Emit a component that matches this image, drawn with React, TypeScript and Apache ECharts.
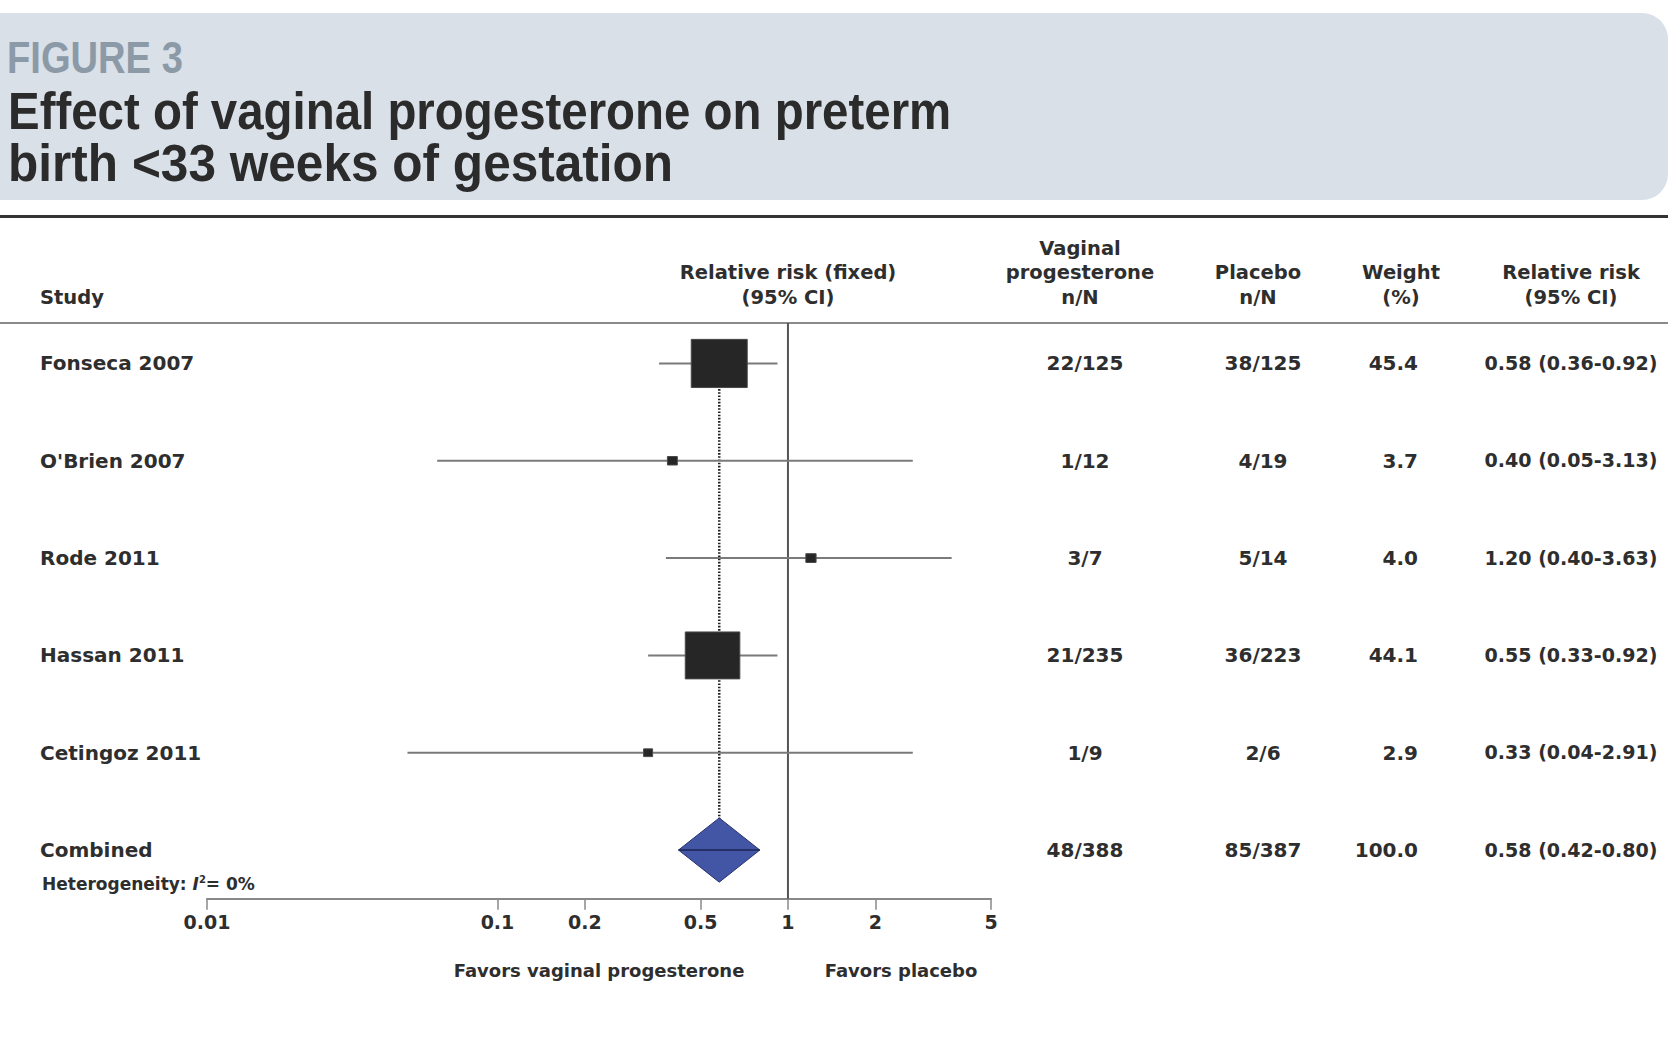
import React, { useEffect, useRef } from 'react';
import * as echarts from 'echarts';

// ---- Data ----
const studies = ['Fonseca 2007', "O'Brien 2007", 'Rode 2011', 'Hassan 2011', 'Cetingoz 2011'];
const rrEstimate = [0.58, 0.40, 1.20, 0.55, 0.33];
// whisker ends as drawn in the figure
const ciLowPlotted = [0.36, 0.062, 0.38, 0.33, 0.049];
const ciHighPlotted = [0.92, 2.69, 3.66, 0.92, 2.69];
const weights = [45.4, 3.7, 4.0, 44.1, 2.9];
const vaginalNN = ['22/125', '1/12', '3/7', '21/235', '1/9'];
const placeboNN = ['38/125', '4/19', '5/14', '36/223', '2/6'];
const rrLabels = ['0.58 (0.36-0.92)', '0.40 (0.05-3.13)', '1.20 (0.40-3.63)', '0.55 (0.33-0.92)', '0.33 (0.04-2.91)'];

const combinedName = 'Combined';
const combinedRR = 0.58;
const combinedLow = 0.42;
const combinedHigh = 0.80;
const combinedVaginal = '48/388';
const combinedPlacebo = '85/387';
const combinedWeight = 100.0;
const combinedRRLabel = '0.58 (0.42-0.80)';

const tickValues = [0.01, 0.1, 0.2, 0.5, 1, 2, 5];
const tickLabels = ['0.01', '0.1', '0.2', '0.5', '1', '2', '5'];

const headerFigure = 'FIGURE 3';
const titleLine1 = 'Effect of vaginal progesterone on preterm';
const titleLine2 = 'birth <33 weeks of gestation';

// ---- helpers ----
const lg = (v: number) => Math.log10(v);
const TXT = '#2e2e2e';
const TF = 'DejaVu Sans';

function fitScale(text: string, font: string, target: number) {
  try {
    const c = document.createElement('canvas').getContext('2d');
    if (!c) return 1;
    c.font = font;
    const w = c.measureText(text).width;
    return w > 0 ? target / w : 1;
  } catch (e) {
    return 1;
  }
}

export default function App() {
  const ref = useRef<HTMLDivElement>(null);

  useEffect(() => {
    if (!ref.current) return;
    const chart = echarts.init(ref.current, undefined, { renderer: 'svg' });

    const tableRows = studies.map((name, i) => ({
      name,
      vag: vaginalNN[i],
      pla: placeboNN[i],
      w: weights[i].toFixed(1),
      rr: rrLabels[i],
    }));
    tableRows.push({
      name: combinedName,
      vag: combinedVaginal,
      pla: combinedPlacebo,
      w: combinedWeight.toFixed(1),
      rr: combinedRRLabel,
    });

    const tickLogs = tickValues.map(lg);
    const titleFont = 'bold 51px "Liberation Sans"';
    const s1 = fitScale(titleLine1, titleFont, 943);
    const s2 = fitScale(titleLine2, titleFont, 665);
    const sF = fitScale(headerFigure, 'bold 44px "Liberation Sans"', 176);
    const sRR = fitScale(rrLabels[0], 'bold 20px "DejaVu Sans"', 173);

    const hdr = (text: string, x: number, y: number, align: string) => ({
      type: 'text',
      x,
      y,
      style: {
        text,
        fill: TXT,
        fontFamily: TF,
        fontWeight: 'bold',
        fontSize: 19.5,
        align,
        verticalAlign: 'middle',
      },
    });

    const option: any = {
      animation: false,
      backgroundColor: '#ffffff',
      grid: { left: 207, top: 314.8, width: 784, height: 583.9 },
      xAxis: {
        type: 'value',
        min: -2,
        max: lg(5),
        splitLine: { show: false },
        axisLine: { onZero: false, lineStyle: { color: '#888', width: 2 } },
        axisTick: {
          customValues: tickLogs,
          length: 11,
          lineStyle: { color: '#888', width: 1.5 },
        },
        axisLabel: {
          customValues: tickLogs,
          margin: 14,
          color: TXT,
          fontFamily: TF,
          fontWeight: 'bold',
          fontSize: 19,
          formatter: (v: number) => {
            const idx = tickLogs.findIndex((t) => Math.abs(t - v) < 1e-6);
            return idx >= 0 ? tickLabels[idx] : '';
          },
        },
      },
      yAxis: {
        type: 'value',
        inverse: true,
        min: -0.5,
        max: 5.5,
        show: false,
      },
      series: [
        {
          // reference line at RR = 1
          type: 'line',
          data: [[lg(1), -0.416], [lg(1), 5.5]],
          symbol: 'none',
          lineStyle: { color: '#555', width: 2 },
          z: 1,
        },
        {
          // dotted line at pooled estimate
          type: 'line',
          data: [[lg(combinedRR), 0], [lg(combinedRR), 5]],
          symbol: 'none',
          lineStyle: { color: '#222', width: 2.5, type: [1.6, 1.6] },
          z: 2,
        },
        {
          type: 'custom',
          z: 3,
          data: studies.map((_, i) => [lg(rrEstimate[i]), i, lg(ciLowPlotted[i]), lg(ciHighPlotted[i]), weights[i]]),
          encode: { x: [0, 2, 3], y: 1 },
          renderItem: (params: any, api: any) => {
            const c = api.coord([api.value(0), api.value(1)]);
            const lo = api.coord([api.value(2), api.value(1)]);
            const hi = api.coord([api.value(3), api.value(1)]);
            const w = 5.8 + 1.106 * api.value(4);
            const h = w * 0.86;
            return {
              type: 'group',
              children: [
                {
                  type: 'line',
                  shape: { x1: lo[0], y1: lo[1], x2: hi[0], y2: hi[1] },
                  style: { stroke: '#7a7a7a', lineWidth: 2 },
                },
                {
                  type: 'rect',
                  shape: { x: c[0] - w / 2, y: c[1] - h / 2, width: w, height: h },
                  style: { fill: '#262626', stroke: '#4a4a4a', lineWidth: 1 },
                },
              ],
            };
          },
        },
        {
          type: 'custom',
          z: 3,
          data: [[lg(combinedRR), 5, lg(combinedLow), lg(combinedHigh)]],
          encode: { x: [0, 2, 3], y: 1 },
          renderItem: (params: any, api: any) => {
            const c = api.coord([api.value(0), api.value(1)]);
            const lo = api.coord([api.value(2), api.value(1)]);
            const hi = api.coord([api.value(3), api.value(1)]);
            const hh = api.size([0, 1])[1] * 0.33;
            return {
              type: 'group',
              children: [
                {
                  type: 'polygon',
                  shape: { points: [[lo[0], c[1]], [c[0], c[1] - hh], [hi[0], c[1]], [c[0], c[1] + hh]] },
                  style: { fill: '#4356a6', stroke: '#26336e', lineWidth: 1 },
                },
                {
                  type: 'line',
                  shape: { x1: lo[0], y1: c[1], x2: hi[0], y2: c[1] },
                  style: { stroke: '#1e2550', lineWidth: 1.5 },
                },
              ],
            };
          },
        },
        {
          // table rows
          type: 'custom',
          z: 4,
          data: tableRows.map((_, i) => [0, i]),
          encode: { x: 0, y: 1 },
          renderItem: (params: any, api: any) => {
            const r = tableRows[params.dataIndex];
            const y = api.coord([0, api.value(1)])[1];
            const base = { fill: TXT, fontFamily: TF, fontWeight: 'bold', fontSize: 20, verticalAlign: 'middle' };
            return {
              type: 'group',
              children: [
                { type: 'text', x: 40, y, style: { ...base, text: r.name, align: 'left' } },
                { type: 'text', x: 1085, y, style: { ...base, text: r.vag, align: 'center' } },
                { type: 'text', x: 1263, y, style: { ...base, text: r.pla, align: 'center' } },
                { type: 'text', x: 1418, y, style: { ...base, text: r.w, align: 'right' } },
                {
                  type: 'text', x: 1571, y, scaleX: sRR,
                  style: { ...base, text: r.rr, align: 'center' },
                },
              ],
            };
          },
        },
      ],
      graphic: [
        {
          type: 'rect',
          shape: { x: -30, y: 13, width: 1698, height: 187, r: 26 },
          style: { fill: '#d9e0e8' },
          z: 0,
        },
        {
          type: 'text',
          x: 7,
          y: 58,
          scaleX: sF,
          style: {
            text: headerFigure,
            fill: '#8c9aa7',
            fontFamily: 'Liberation Sans',
            fontWeight: 'bold',
            fontSize: 44,
            align: 'left',
            verticalAlign: 'middle',
          },
        },
        {
          type: 'text',
          x: 8,
          y: 111,
          scaleX: s1,
          style: {
            text: titleLine1,
            fill: '#2b2b2b',
            fontFamily: 'Liberation Sans',
            fontWeight: 'bold',
            fontSize: 51,
            align: 'left',
            verticalAlign: 'middle',
          },
        },
        {
          type: 'text',
          x: 8,
          y: 163,
          scaleX: s2,
          style: {
            text: titleLine2,
            fill: '#2b2b2b',
            fontFamily: 'Liberation Sans',
            fontWeight: 'bold',
            fontSize: 51,
            align: 'left',
            verticalAlign: 'middle',
          },
        },
        {
          type: 'line',
          shape: { x1: 0, y1: 216.5, x2: 1668, y2: 216.5 },
          style: { stroke: '#333', lineWidth: 3 },
        },
        {
          type: 'line',
          shape: { x1: 0, y1: 323, x2: 1668, y2: 323 },
          style: { stroke: '#8a8a8a', lineWidth: 2 },
        },
        hdr('Study', 40, 297, 'left'),
        hdr('Relative risk (fixed)', 788, 272, 'center'),
        hdr('(95% CI)', 788, 297, 'center'),
        hdr('Vaginal', 1080, 248, 'center'),
        hdr('progesterone', 1080, 272, 'center'),
        hdr('n/N', 1080, 297, 'center'),
        hdr('Placebo', 1258, 272, 'center'),
        hdr('n/N', 1258, 297, 'center'),
        hdr('Weight', 1401, 272, 'center'),
        hdr('(%)', 1401, 297, 'center'),
        hdr('Relative risk', 1571, 272, 'center'),
        hdr('(95% CI)', 1571, 297, 'center'),
        {
          type: 'text',
          x: 42,
          y: 884,
          style: {
            text: '{b|Heterogeneity: }{i|I}{s|2}{b|= 0%}',
            verticalAlign: 'middle',
            align: 'left',
            rich: {
              b: { fill: TXT, color: TXT, fontFamily: TF, fontWeight: 'bold', fontSize: 17, lineHeight: 20 },
              i: { fill: TXT, color: TXT, fontFamily: TF, fontWeight: 'bold', fontStyle: 'italic', fontSize: 17, lineHeight: 20 },
              s: { fill: TXT, color: TXT, fontFamily: TF, fontWeight: 'bold', fontSize: 10, lineHeight: 20, verticalAlign: 'top' },
            },
          },
        },
        {
          type: 'text',
          x: 599,
          y: 970,
          style: {
            text: 'Favors vaginal progesterone',
            fill: TXT,
            fontFamily: TF,
            fontWeight: 'bold',
            fontSize: 18,
            align: 'center',
            verticalAlign: 'middle',
          },
        },
        {
          type: 'text',
          x: 901,
          y: 970,
          style: {
            text: 'Favors placebo',
            fill: TXT,
            fontFamily: TF,
            fontWeight: 'bold',
            fontSize: 18,
            align: 'center',
            verticalAlign: 'middle',
          },
        },
      ],
    };

    chart.setOption(option);
    return () => chart.dispose();
  }, []);

  return (
    <div
      ref={ref}
      style={{ position: 'fixed', left: 0, top: 0, width: 1668, height: 1045, background: '#fff' }}
    />
  );
}
